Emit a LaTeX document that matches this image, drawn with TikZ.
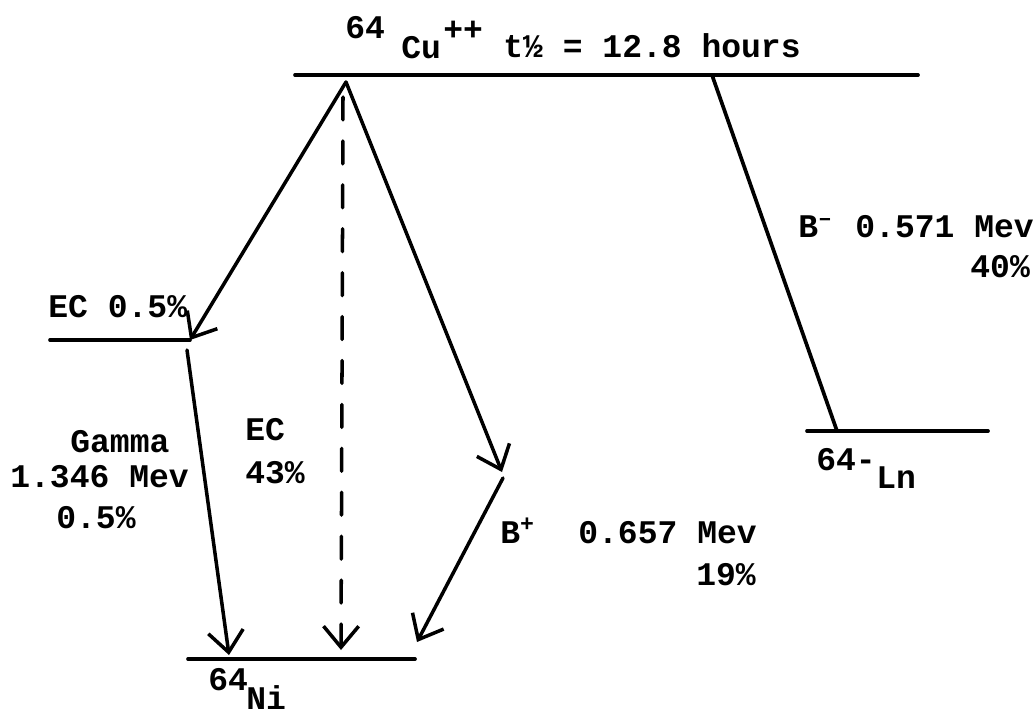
\documentclass[tikz,border=0pt]{standalone}
\usepackage{fontspec}
\setmainfont{Liberation Mono}
\usepackage{tikz}
\usetikzlibrary{arrows.meta}

\begin{document}
\begin{tikzpicture}[
    x=0.02cm, y=-0.02cm,
    level/.style={line width=2.1pt, line cap=round},
    decay/.style={-{Straight Barb[length=12pt,width=20pt]}, line width=2pt, line cap=round},
    lbl/.style={inner sep=0pt, anchor=base west, font=\fontsize{18.8}{22}\selectfont\bfseries}
]
    \useasboundingbox (0,0) rectangle (1034,718);

    % energy levels
    \coordinate (cu-w) at (295,75);
    \coordinate (cu-e) at (918,75);
    \coordinate (ec-w) at (50,340);
    \coordinate (ec-e) at (190,340);
    \coordinate (ni-w) at (188,659);
    \coordinate (ni-e) at (415,659);
    \coordinate (ln-w) at (807,431);
    \coordinate (ln-e) at (988,431);
    \draw[level] (cu-w) -- (cu-e);
    \draw[level] (ec-w) -- (ec-e);
    \draw[level] (ni-w) -- (ni-e);
    \draw[level] (ln-w) -- (ln-e);

    % decay paths
    \coordinate (apex) at (346,82);
    \coordinate (gam) at (187,350);
    \coordinate (ni-a) at (229,655);
    \coordinate (ec-top) at (343,97);
    \coordinate (ni-b) at (341,650);
    \coordinate (bp-mid) at (502,472);
    \coordinate (bp-low) at (503,478);
    \coordinate (ni-c) at (417,642);
    \coordinate (bm-top) at (712,75);
    \coordinate (ln-a) at (837,431);
    \draw[decay] (apex) -- (ec-e);
    \draw[decay] (gam) -- (ni-a);
    \draw[decay, dash pattern=on 13pt off 12pt] (ec-top) -- (ni-b);
    \draw[decay] (apex) -- (bp-mid);
    \draw[decay] (bp-low) -- (ni-c);
    \draw[level] (bm-top) -- (ln-a);

    % labels
    \node[lbl] (cu-mass) at (345,38) {64};
    \node[lbl] (cu-sym) at (401,58) {Cu};
    \node[lbl] (cu-chg) at (443,40) {++};
    \node[lbl] (cu-half) at (503,57) {t½ = 12.8 hours};
    \node[lbl] (ec-small) at (48,317) {EC 0.5\%};
    \node[lbl] (gam-a) at (70,452) {Gamma};
    \node[lbl] (gam-b) at (10,487) {1.346 Mev};
    \node[lbl] (gam-c) at (56,528) {0.5\%};
    \node[lbl] (ec-a) at (245,440) {EC};
    \node[lbl] (ec-b) at (245,483) {43\%};
    \node[lbl] (bp-a) at (500,543) {B\textsuperscript{+}};
    \node[lbl] (bp-b) at (578,543) {0.657 Mev};
    \node[lbl] (bp-c) at (696,585) {19\%};
    \node[lbl] (bm-a) at (798,237) {B\textsuperscript{--}};
    \node[lbl] (bm-b) at (855,237) {0.571 Mev};
    \node[lbl] (bm-c) at (970,277) {40\%};
    \node[lbl] (ni-mass) at (208,690) {64};
    \node[lbl] (ni-sym) at (246,709) {Ni};
    \node[lbl] (ln-mass) at (816,470) {64-};
    \node[lbl] (ln-sym) at (876,488) {Ln};
\end{tikzpicture}
\end{document}
